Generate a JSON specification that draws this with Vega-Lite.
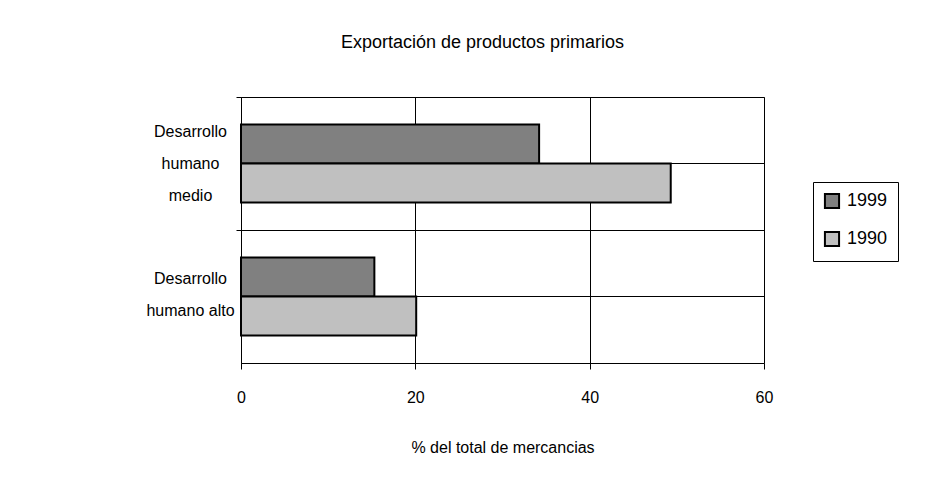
{
  "$schema": "https://vega.github.io/schema/vega-lite/v6.json",
  "width": 523,
  "height": 266,
  "autosize": {"type": "none"},
  "padding": {"left": 241, "top": 97, "right": 184, "bottom": 126},
  "background": "white",
  "title": {
    "text": "Exportación de productos primarios",
    "font": "Liberation Sans",
    "fontSize": 18,
    "fontWeight": "normal",
    "color": "black",
    "offset": 45,
    "dx": -20
  },
  "data": {
    "values": [
      {"categoria": "Desarrollo humano medio", "anio": "1999", "valor": 34.2},
      {"categoria": "Desarrollo humano medio", "anio": "1990", "valor": 49.3},
      {"categoria": "Desarrollo humano alto", "anio": "1999", "valor": 15.3},
      {"categoria": "Desarrollo humano alto", "anio": "1990", "valor": 20.1}
    ]
  },
  "layer": [
    {
      "mark": {"type": "rule", "color": "black", "strokeWidth": 1},
      "encoding": {
        "y": {"field": "categoria", "type": "nominal", "sort": ["Desarrollo humano medio", "Desarrollo humano alto"]}
      }
    },
    {
      "mark": {"type": "bar", "stroke": "black", "strokeWidth": 2},
      "encoding": {
        "y": {
          "field": "categoria",
          "type": "nominal",
          "sort": ["Desarrollo humano medio", "Desarrollo humano alto"],
          "scale": {"paddingInner": 0, "paddingOuter": 0},
          "axis": {
            "title": null,
            "bandPosition": 0,
            "grid": true,
            "gridColor": "black",
            "gridWidth": 1,
            "gridOpacity": 1,
            "domainColor": "black",
            "tickColor": "black",
            "tickSize": 5,
            "labelFont": "Liberation Sans",
            "labelFontSize": 16,
            "labelColor": "black",
            "labelAlign": "center",
            "labelBaseline": "middle",
            "labelLineHeight": 32,
            "labelPadding": 46,
            "labelLimit": 0,
            "labelOffset": {"expr": "datum.value == 'Desarrollo humano medio' ? -32 : -18"},
            "labelExpr": "datum.value == 'Desarrollo humano medio' ? ['Desarrollo', 'humano', 'medio'] : ['Desarrollo', 'humano alto']"
          }
        },
        "yOffset": {
          "field": "anio",
          "type": "nominal",
          "sort": ["1999", "1990"],
          "scale": {"paddingInner": 0, "paddingOuter": 0.705}
        },
        "x": {
          "field": "valor",
          "type": "quantitative",
          "scale": {"domain": [0, 60], "nice": false},
          "axis": {
            "title": "% del total de mercancias",
            "values": [0, 20, 40, 60],
            "labelFlush": false,
            "grid": true,
            "gridColor": "black",
            "gridOpacity": 1,
            "gridWidth": 1,
            "domainColor": "black",
            "tickColor": "black",
            "tickSize": 6,
            "labelFont": "Liberation Sans",
            "labelFontSize": 16,
            "labelColor": "black",
            "labelPadding": 20,
            "titleFont": "Liberation Sans",
            "titleFontSize": 16,
            "titleFontWeight": "normal",
            "titleColor": "black",
            "titlePadding": 34
          }
        },
        "color": {
          "field": "anio",
          "type": "nominal",
          "sort": ["1999", "1990"],
          "scale": {"domain": ["1999", "1990"], "range": ["#808080", "#C0C0C0"]},
          "legend": {
            "title": null,
            "orient": "none",
            "legendX": 572,
            "legendY": 85,
            "strokeColor": "black",
            "padding": 10,
            "symbolType": "square",
            "symbolSize": 200,
            "symbolStrokeColor": "black",
            "symbolStrokeWidth": 2,
            "symbolOpacity": 1,
            "labelFont": "Liberation Sans",
            "labelFontSize": 18,
            "labelColor": "black",
            "rowPadding": 14,
            "labelOffset": 6
          }
        }
      }
    }
  ],
  "config": {
    "view": {"stroke": "#808080", "strokeWidth": 1}
  }
}
